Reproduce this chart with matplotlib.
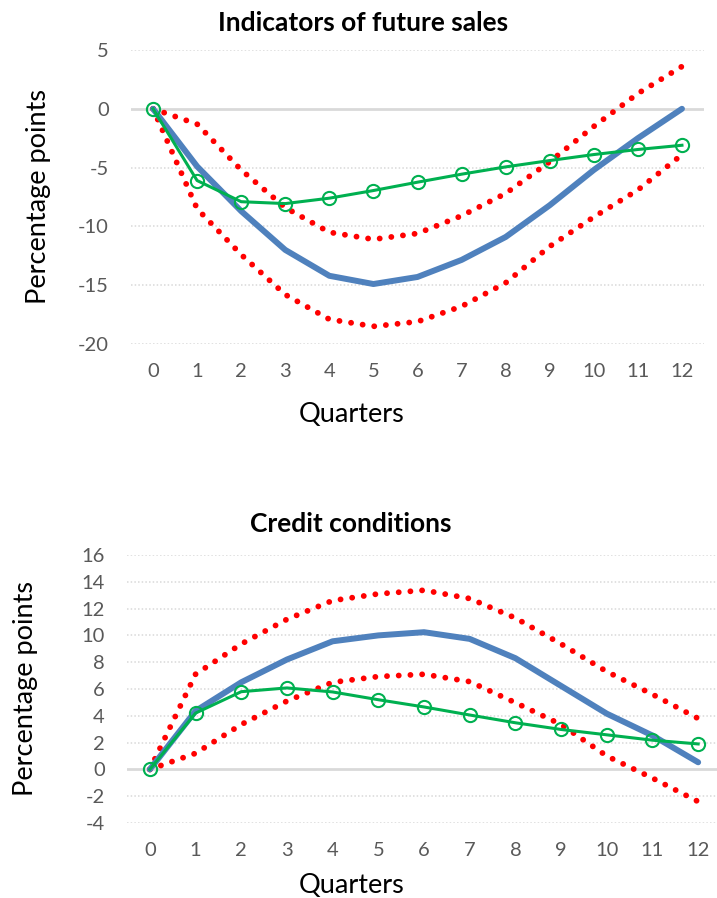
import matplotlib
matplotlib.use("Agg")
import matplotlib.pyplot as plt

plt.rcParams['font.family'] = ['Lato', 'DejaVu Sans']
plt.rcParams['axes.unicode_minus'] = False

quarters = list(range(13))

# Indicators of future sales
sales_mid = [0, -4.9, -8.7, -12.0, -14.2, -14.9, -14.3, -12.85, -10.9, -8.2, -5.2, -2.5, 0.0]
sales_alt = [0, -6.1, -7.9, -8.06, -7.6, -6.95, -6.24, -5.56, -4.94, -4.4, -3.89, -3.46, -3.1]
sales_hi = [0, -1.3, -5.2, -8.4, -10.5, -11.1, -10.6, -9.1, -7.2, -4.5, -1.5, 1.3, 3.6]
sales_lo = [0, -8.5, -12.4, -15.8, -17.9, -18.5, -18.1, -16.8, -14.8, -11.7, -9.2, -6.9, -3.9]

# Credit conditions
credit_mid = [0, 4.36, 6.5, 8.2, 9.56, 10.0, 10.24, 9.74, 8.3, 6.23, 4.16, 2.53, 0.53]
credit_alt = [0, 4.2, 5.8, 6.08, 5.78, 5.2, 4.66, 4.06, 3.48, 2.98, 2.58, 2.18, 1.9]
credit_hi = [0, 7.1, 9.36, 11.2, 12.6, 13.1, 13.37, 12.75, 11.3, 9.36, 7.3, 5.6, 3.8]
credit_lo = [0, 1.2, 3.35, 5.1, 6.5, 6.93, 7.1, 6.55, 4.98, 3.35, 1.0, -0.65, -2.4]

BLUE = '#4f81bd'
GREEN = '#00b050'
RED = '#ff0000'
GRID = '#d9d9d9'
TICK = '#595959'

W, H = 717, 898


def px(x, y):
    # pixel position (from top-left) -> figure fraction
    return x / W, 1 - y / H


def draw_panel(ax, mid, alt, hi, lo, yticks):
    ax.set_xlim(-0.5, 12.5)
    ax.set_ylim(yticks[0], yticks[-1])
    for y in yticks:
        if y == 0:
            ax.axhline(y, color=GRID, lw=2.0, zorder=1)
        else:
            ax.axhline(y, color=GRID, lw=1.1, ls=(0, (1, 1.4)), zorder=1)

    for band in (hi, lo):
        ax.plot(quarters, band, color=RED, lw=4.2, ls=(0, (0.01, 2.0)),
                dash_capstyle='round', zorder=2, clip_on=False)
    ax.plot(quarters, mid, color=BLUE, lw=4.3, solid_capstyle='round', zorder=3)
    ax.plot(quarters, alt, color=GREEN, lw=2.2, marker='o', ms=9.5,
            mfc='none', mec=GREEN, mew=1.5, zorder=4, clip_on=False)

    ax.set_xticks(quarters)
    ax.set_yticks(yticks)
    ax.tick_params(length=0, labelsize=14.5, labelcolor=TICK)
    ax.tick_params(axis='x', pad=13.5)
    ax.tick_params(axis='y', pad=16)
    for s in ax.spines.values():
        s.set_visible(False)


fig = plt.figure(figsize=(W / 100, H / 100), dpi=100)
ax1 = fig.add_axes([131 / W, 1 - 344 / H, 573 / W, 294 / H])
ax2 = fig.add_axes([127 / W, 1 - 823 / H, 594 / W, 268 / H])

draw_panel(ax1, sales_mid, sales_alt, sales_hi, sales_lo, [-20, -15, -10, -5, 0, 5])
draw_panel(ax2, credit_mid, credit_alt, credit_hi, credit_lo, list(range(-4, 17, 2)))

# titles and axis titles
fig.text(*px(363, 31), 'Indicators of future sales', fontsize=19, fontweight='bold',
         ha='center', va='baseline')
fig.text(*px(351, 532), 'Credit conditions', fontsize=19, fontweight='bold',
         ha='center', va='baseline')
fig.text(*px(352, 422), 'Quarters', fontsize=19.5, ha='center', va='baseline')
fig.text(*px(352, 893), 'Quarters', fontsize=19.5, ha='center', va='baseline')
fig.text(*px(39, 197), 'Percentage points', fontsize=19.5, rotation=90,
         ha='center', va='center')
fig.text(*px(26, 688), 'Percentage points', fontsize=19.5, rotation=90,
         ha='center', va='center')

fig.savefig('out.png', dpi=100)
